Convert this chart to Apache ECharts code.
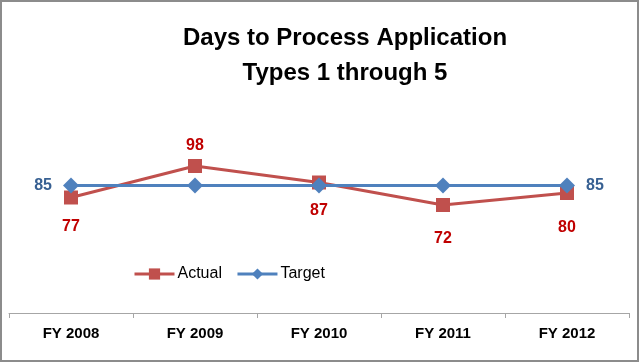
<!DOCTYPE html>
<html><head><meta charset="utf-8">
<script src="https://cdn.jsdelivr.net/npm/echarts@6/dist/echarts.min.js"></script>
<style>html,body{margin:0;padding:0;background:#fff}#c{width:640px;height:363px}</style>
</head><body><div id="c"></div>
<script>
const categories = ['FY 2008','FY 2009','FY 2010','FY 2011','FY 2012'];
const actual = [77, 98, 87, 72, 80];
const target = [85, 85, 85, 85, 85];
const actualLabelOffsets = [[0,29],[0,-20],[0,28],[0,34],[0,35]];

const chart = echarts.init(document.getElementById('c'));
const FONT = '"Liberation Sans", Arial, sans-serif';
chart.setOption({
  animation: false,
  title: {
    text: 'Days to Process Application\nTypes 1 through 5',
    left: 340, top: 16, textAlign: 'center',
    textStyle: {fontFamily: FONT, fontWeight: 'bold', fontSize: 24, color: '#000', lineHeight: 35}
  },
  legend: {
    left: 128, top: 261, itemGap: 14, itemWidth: 40, itemHeight: 14,
    lineStyle: {width: 3},
    textStyle: {fontFamily: FONT, fontSize: 16, color: '#000', padding: [0,0,0,-2]},
    data: ['Actual', 'Target']
  },
  graphic: [{type:'rect', shape:{x:1,y:1,width:637,height:360}, style:{fill:'none', stroke:'#8c8c8c', lineWidth:2}, silent:true}],
  grid: {left: 9, right: 11, top: 133, bottom: 50},
  xAxis: {
    type: 'category', data: categories, boundaryGap: true,
    axisLine: {lineStyle: {color: '#a6a6a6', width: 1}},
    axisTick: {show: true, length: 5, lineStyle: {color: '#a6a6a6'}},
    axisLabel: {fontFamily: FONT, fontWeight: 'bold', fontSize: 15, color: '#000', margin: 13}
  },
  yAxis: {type: 'value', min: 0, max: 120, show: false, splitLine: {show: false}},
  series: [
    {
      name: 'Actual', type: 'line', data: actual.map((v,i)=>({value:v, label:{offset: actualLabelOffsets[i]}})),
      symbol: 'rect', symbolSize: 14,
      lineStyle: {color: '#C0504D', width: 3}, itemStyle: {color: '#C0504D'},
      label: {show: true, position: 'inside', fontFamily: FONT, fontWeight: 'bold', fontSize: 16, color: '#C00000'},
      z: 2
    },
    {
      name: 'Target', type: 'line',
      data: target.map((v,i)=>({value:v, label: {show: i===0 || i===target.length-1, position: i===0 ? 'left' : 'right', distance: 11}})),
      symbol: 'diamond', symbolSize: 16,
      lineStyle: {color: '#4F81BD', width: 3}, itemStyle: {color: '#4F81BD'},
      label: {fontFamily: FONT, fontWeight: 'bold', fontSize: 16, color: '#376092'},
      z: 3
    }
  ]
});
</script></body></html>
